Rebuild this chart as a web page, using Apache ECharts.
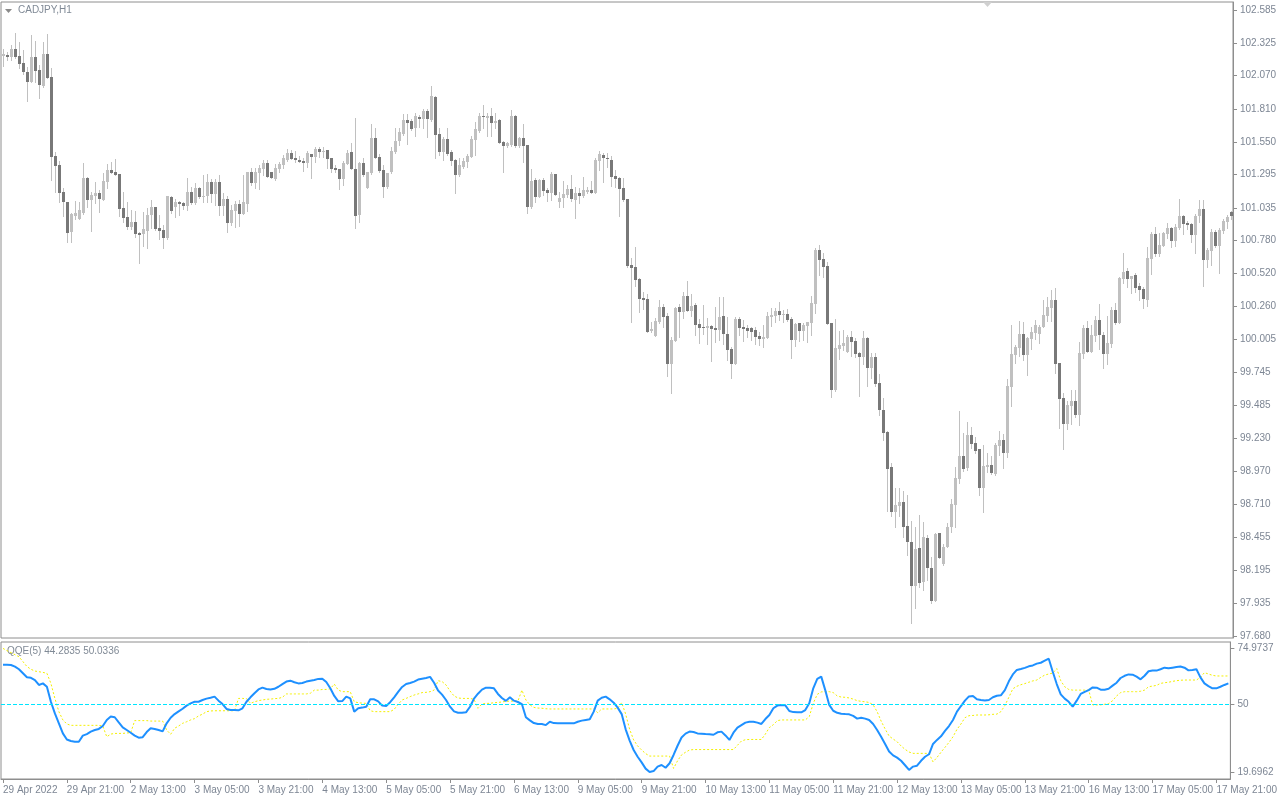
<!DOCTYPE html>
<html><head><meta charset="utf-8">
<script src="https://cdn.jsdelivr.net/npm/echarts@6/dist/echarts.min.js"></script>
<style>html,body{margin:0;padding:0;background:#fff}#c{width:1280px;height:800px}</style>
</head><body><div id="c"></div>
<script>
const opens = [
102.227,102.232,102.219,102.280,102.225,102.170,102.102,102.018,102.219,102.115,
101.992,102.240,102.063,101.441,101.371,101.162,101.083,100.848,100.971,100.948,
100.992,101.271,101.096,101.130,101.154,101.096,101.240,101.331,101.318,101.300,
101.036,100.963,100.887,100.924,100.838,100.830,100.856,100.979,101.042,100.880,
100.861,100.799,101.120,101.042,101.078,101.070,101.049,101.159,101.073,101.190,
101.122,101.128,101.235,101.143,101.235,101.052,101.104,100.919,101.013,101.062,
100.989,101.068,101.313,101.232,101.305,101.339,101.386,101.316,101.261,101.342,
101.371,101.412,101.465,101.425,101.410,101.402,101.389,101.457,101.431,101.496,
101.475,101.486,101.425,101.347,101.339,101.264,101.381,101.473,101.339,100.979,
101.386,101.193,101.308,101.585,101.433,101.331,101.198,101.316,101.473,101.559,
101.616,101.723,101.718,101.663,101.744,101.731,101.794,101.723,101.906,101.613,
101.475,101.577,101.472,101.410,101.292,101.358,101.397,101.436,101.567,101.640,
101.757,101.741,101.755,101.702,101.723,101.551,101.522,101.527,101.755,101.522,
101.580,101.527,101.044,101.253,101.123,101.253,101.175,101.154,101.300,101.083,
101.115,101.136,101.183,101.096,101.154,101.130,101.162,101.175,101.154,101.405,
101.449,101.428,101.410,101.285,101.269,101.190,101.102,100.587,100.571,100.480,
100.329,100.321,100.070,100.033,100.143,100.258,100.188,99.811,99.989,100.258,
100.219,100.344,100.227,100.274,100.125,100.101,100.094,100.109,100.096,100.078,
100.188,100.047,99.926,99.811,100.164,100.101,100.096,100.091,100.078,100.031,
100.007,100.015,100.182,100.188,100.227,100.198,100.203,100.164,99.999,100.133,
100.070,100.109,100.133,100.282,100.705,100.634,100.579,100.133,99.608,99.932,
99.955,99.908,100.023,99.992,99.898,99.869,100.018,99.783,99.869,99.663,
99.454,99.279,99.004,98.655,98.702,98.733,98.542,98.419,98.075,98.370,
98.101,98.451,98.216,97.957,98.485,98.242,98.375,98.532,98.707,98.910,
99.091,98.997,99.255,99.195,99.143,98.843,99.007,99.020,98.950,99.172,
99.216,99.117,99.629,99.882,99.939,100.044,99.882,100.007,100.052,100.046,
100.104,100.187,100.253,100.313,99.819,99.542,99.344,99.485,99.524,99.412,
99.892,100.096,99.905,100.033,100.156,100.041,99.892,99.968,100.237,100.130,
100.480,100.540,100.480,100.509,100.423,100.402,100.313,100.634,100.833,100.676,
100.739,100.833,100.877,100.775,100.880,100.974,100.919,100.911,100.825,100.968,
101.026,100.629,100.699,100.848,100.739,100.856,100.924,101.002];
const highs = [
102.280,102.259,102.311,102.402,102.337,102.272,102.141,102.389,102.342,102.154,
102.337,102.397,102.133,101.475,101.402,101.188,101.083,100.997,101.091,101.078,
101.389,101.279,101.162,101.240,101.175,101.305,101.376,101.391,101.418,101.300,
101.162,101.083,101.018,101.013,100.848,101.005,101.031,101.096,101.042,100.979,
100.901,101.128,101.128,101.102,101.088,101.083,101.266,101.201,101.227,101.201,
101.292,101.300,101.261,101.261,101.292,101.149,101.130,101.057,101.089,101.096,
101.292,101.318,101.345,101.350,101.371,101.410,101.410,101.318,101.381,101.397,
101.449,101.496,101.491,101.480,101.441,101.423,101.480,101.460,101.514,101.514,
101.514,101.486,101.425,101.371,101.339,101.405,101.488,101.540,101.741,101.397,
101.423,101.313,101.689,101.658,101.454,101.371,101.308,101.514,101.658,101.658,
101.768,101.768,101.728,101.775,101.762,101.809,101.809,101.990,101.911,101.658,
101.593,101.658,101.488,101.415,101.423,101.423,101.457,101.598,101.710,101.781,
101.841,101.775,101.815,101.781,101.728,101.561,101.553,101.802,101.762,101.593,
101.692,101.527,101.337,101.266,101.258,101.266,101.188,101.318,101.300,101.162,
101.248,101.214,101.292,101.196,101.188,101.279,101.201,101.248,101.423,101.483,
101.467,101.462,101.441,101.331,101.279,101.266,101.102,100.639,100.726,100.488,
100.378,100.360,100.143,100.169,100.313,100.282,100.208,100.026,100.261,100.282,
100.378,100.462,100.360,100.287,100.161,100.274,100.169,100.117,100.261,100.334,
100.334,100.182,99.947,100.177,100.182,100.156,100.117,100.104,100.104,100.065,
100.117,100.222,100.248,100.248,100.300,100.235,100.240,100.182,100.135,100.135,
100.135,100.143,100.344,100.723,100.741,100.679,100.613,100.133,100.164,100.073,
100.078,100.039,100.070,100.013,99.908,100.073,100.026,99.900,99.900,99.733,
99.542,99.286,99.033,98.837,98.837,98.816,98.785,98.581,98.532,98.628,
98.576,98.472,98.302,98.490,98.490,98.399,98.568,98.751,99.007,99.443,
99.268,99.360,99.320,99.242,99.143,99.177,99.112,99.091,99.190,99.287,
99.260,99.691,100.117,99.960,100.151,100.143,100.026,100.104,100.156,100.117,
100.313,100.334,100.391,100.404,99.819,99.587,99.522,99.608,99.608,99.981,
100.117,100.148,100.117,100.187,100.281,100.065,100.187,100.261,100.292,100.496,
100.684,100.561,100.501,100.522,100.443,100.417,100.731,100.848,100.887,100.835,
100.848,100.919,100.882,100.908,101.104,100.979,100.932,100.919,100.987,101.096,
101.096,100.718,100.866,100.861,100.874,100.945,100.979,101.013];
const lows = [
102.149,102.193,102.193,102.206,102.133,102.081,101.872,102.018,102.018,101.893,
101.984,102.050,101.253,101.156,101.083,100.974,100.770,100.770,100.948,100.948,
100.987,101.044,100.856,101.070,101.005,101.096,101.193,101.305,101.292,100.974,
100.927,100.869,100.869,100.804,100.600,100.736,100.718,100.874,100.861,100.791,
100.723,100.791,100.992,100.961,100.979,101.026,101.018,101.062,101.068,101.109,
101.083,101.083,101.083,101.057,100.979,100.979,100.848,100.901,100.887,100.895,
100.984,101.010,101.214,101.188,101.185,101.292,101.279,101.266,101.253,101.318,
101.350,101.402,101.415,101.397,101.392,101.324,101.358,101.271,101.392,101.436,
101.436,101.350,101.318,101.318,101.185,101.214,101.381,101.339,100.874,100.921,
101.284,101.193,101.303,101.423,101.318,101.122,101.193,101.311,101.462,101.527,
101.606,101.535,101.645,101.598,101.671,101.658,101.593,101.718,101.428,101.449,
101.410,101.449,101.371,101.149,101.284,101.345,101.352,101.431,101.449,101.632,
101.658,101.598,101.598,101.658,101.540,101.318,101.514,101.519,101.514,101.514,
101.397,100.997,101.036,101.083,101.120,101.136,101.091,101.096,101.136,101.039,
101.044,101.123,101.091,100.953,101.070,101.123,101.154,101.149,101.149,101.332,
101.240,101.358,101.206,101.201,100.971,101.089,100.574,100.143,100.423,100.219,
100.245,100.062,100.060,100.033,100.135,100.099,99.720,99.587,99.989,100.026,
100.169,100.227,100.188,100.039,99.979,100.044,99.968,99.838,99.986,99.999,
99.968,99.843,99.704,99.811,100.039,99.994,100.026,99.999,99.968,99.960,
99.947,100.015,100.109,100.143,100.156,100.140,100.151,99.861,99.953,99.992,
99.999,99.986,100.039,100.211,100.509,100.496,100.127,99.556,99.600,99.853,
99.921,99.905,99.877,99.869,99.563,99.809,99.642,99.704,99.642,99.412,
99.216,98.662,98.621,98.532,98.621,98.453,98.315,97.780,97.897,98.067,
98.041,98.119,97.942,97.957,98.289,98.237,98.375,98.498,98.532,98.876,
98.976,98.981,99.151,99.112,98.785,98.655,98.968,98.950,98.942,99.099,
98.999,99.080,99.485,99.822,99.874,99.843,99.725,99.929,100.007,99.973,
100.104,100.151,100.151,99.744,99.313,99.145,99.305,99.341,99.399,99.331,
99.861,99.905,99.905,99.994,99.926,99.777,99.814,99.947,100.125,100.130,
100.443,100.412,100.370,100.378,100.313,100.253,100.266,100.514,100.660,100.660,
100.736,100.796,100.731,100.736,100.869,100.827,100.866,100.770,100.684,100.927,
100.425,100.574,100.587,100.731,100.522,100.840,100.874,100.945];
const closes = [
102.238,102.219,102.280,102.219,102.165,102.097,102.018,102.219,102.110,101.997,
102.240,102.055,101.436,101.365,101.154,101.078,100.840,100.987,100.997,101.018,
101.271,101.096,101.136,101.154,101.104,101.248,101.331,101.311,101.292,101.026,
100.958,100.887,100.924,100.830,100.822,100.869,100.979,101.042,100.869,100.856,
100.799,101.125,101.010,101.083,101.065,101.049,101.159,101.073,101.190,101.120,
101.128,101.240,101.143,101.235,101.052,101.104,100.919,101.018,101.062,100.989,
101.081,101.313,101.232,101.313,101.350,101.386,101.279,101.271,101.347,101.381,
101.428,101.465,101.420,101.410,101.394,101.389,101.465,101.436,101.496,101.475,
101.480,101.420,101.342,101.334,101.264,101.386,101.465,101.342,100.974,101.386,
101.295,101.313,101.585,101.428,101.326,101.201,101.308,101.480,101.559,101.629,
101.723,101.702,101.653,101.755,101.731,101.794,101.731,101.911,101.606,101.475,
101.577,101.457,101.405,101.292,101.371,101.405,101.441,101.572,101.653,101.755,
101.749,101.755,101.702,101.715,101.546,101.522,101.540,101.755,101.522,101.580,
101.522,101.044,101.248,101.123,101.253,101.170,101.154,101.300,101.136,101.115,
101.143,101.183,101.104,101.154,101.128,101.175,101.175,101.154,101.410,101.457,
101.428,101.415,101.279,101.264,101.183,101.096,100.579,100.566,100.470,100.323,
100.316,100.062,100.086,100.148,100.258,100.180,99.811,99.999,100.250,100.219,
100.344,100.227,100.266,100.117,100.096,100.094,100.109,100.088,100.078,100.180,
100.047,99.921,99.811,100.164,100.096,100.086,100.070,100.062,100.026,100.007,
100.023,100.188,100.198,100.227,100.195,100.206,100.156,99.999,100.125,100.070,
100.117,100.140,100.289,100.705,100.626,100.574,100.127,99.608,99.939,99.960,
99.979,100.026,99.986,99.892,99.869,100.018,99.783,99.869,99.657,99.454,
99.273,98.991,98.655,98.707,98.733,98.537,98.419,98.075,98.362,98.093,
98.459,98.211,97.957,98.482,98.289,98.380,98.537,98.715,98.921,99.091,
98.989,99.255,99.187,99.132,98.843,99.012,99.020,98.955,99.179,99.216,
99.117,99.642,99.890,99.947,100.044,99.882,100.018,100.062,100.117,100.104,
100.193,100.261,100.313,99.814,99.537,99.344,99.490,99.524,99.412,99.898,
100.096,99.905,100.039,100.156,100.036,99.892,99.976,100.237,100.135,100.488,
100.532,100.480,100.501,100.409,100.394,100.321,100.642,100.833,100.676,100.744,
100.840,100.877,100.775,100.885,100.974,100.911,100.903,100.825,100.974,101.026,
100.629,100.705,100.848,100.739,100.861,100.932,100.966,100.971];
const qqeFast = [
67.5,67.5,67.4,66.7,65.5,63.7,61.9,61.7,60.7,58.5,
59.2,57.7,51.0,45.8,41.4,36.9,34.2,33.5,33.2,33.2,
35.9,36.6,37.7,38.4,38.9,40.2,42.9,44.4,44.1,41.8,
39.6,38.4,37.2,35.9,35.0,35.2,37.5,39.2,38.9,38.4,
37.8,41.4,43.9,45.5,46.7,47.9,49.3,50.3,51.0,51.0,
51.8,52.4,52.8,53.3,51.5,50.0,47.8,47.3,47.3,47.2,
48.1,51.0,53.0,54.8,56.5,57.3,56.7,56.5,56.8,57.7,
58.9,60.0,60.4,59.7,59.2,59.4,60.0,60.4,60.7,61.2,
61.3,59.8,57.0,53.6,51.2,51.3,53.3,52.5,46.6,48.1,
48.4,48.8,52.1,52.1,51.2,49.3,49.1,50.8,53.0,55.4,
57.6,58.9,59.4,60.0,60.9,61.3,61.6,62.1,59.5,56.0,
54.2,51.8,48.8,46.7,46.1,46.1,46.3,48.8,52.4,54.6,
56.4,57.3,57.3,57.0,54.5,52.7,51.4,53.0,51.5,50.9,
50.0,44.1,42.7,41.5,41.1,41.1,40.6,42.1,41.5,41.4,
41.4,41.4,41.4,41.4,42.1,42.6,42.9,43.2,46.6,51.5,
52.8,53.3,52.1,50.6,48.4,45.5,38.7,33.7,29.5,26.5,
24.0,21.2,19.7,20.1,22.1,22.8,21.6,23.6,27.3,31.4,
35.1,36.8,37.7,37.5,36.9,36.8,36.6,36.5,36.3,37.4,
37.7,36.0,34.0,37.2,39.5,40.6,41.7,42.1,42.1,41.7,
41.1,43.3,45.1,48.1,49.3,49.6,49.4,46.9,46.4,46.3,
46.3,47.3,50.3,57.0,61.2,62.2,56.2,49.6,47.0,46.1,
45.7,45.5,45.4,44.7,43.5,43.9,43.5,42.9,41.1,38.4,
35.4,32.2,28.8,27.1,26.1,24.7,22.7,20.6,22.1,22.5,
24.7,26.5,27.6,32.2,34.0,35.6,38.0,40.2,42.9,46.6,
49.1,51.5,53.4,53.6,52.1,51.8,51.6,51.8,53.0,53.7,
53.9,56.2,60.1,63.2,65.2,65.6,66.1,66.8,67.2,68.0,
68.4,69.3,70.2,64.4,58.9,54.3,52.4,51.0,48.8,51.5,
54.5,55.4,56.2,57.4,57.3,56.4,56.4,56.8,58.2,59.5,
61.6,62.6,63.2,63.1,62.2,61.0,62.6,64.6,64.9,64.9,
65.5,66.2,65.9,66.2,66.5,66.7,66.2,65.0,65.2,65.5,
61.9,59.2,58.0,57.0,57.0,57.7,58.5,59.2];
const qqeSlow = [
74.8,73.8,72.9,72.0,71.1,68.9,66.7,65.5,64.7,64.4,
64.1,63.7,59.2,52.5,46.6,42.9,41.1,40.5,40.5,40.5,
40.5,40.5,40.5,40.5,40.5,40.2,35.4,36.6,36.9,36.9,
36.9,37.1,37.2,42.6,42.6,42.6,42.6,42.4,42.4,42.4,
42.4,38.4,36.5,39.2,40.2,41.4,42.1,42.9,43.5,44.7,
45.5,46.6,46.9,47.0,47.0,47.0,47.0,47.0,47.0,52.5,
52.5,52.4,50.3,51.0,51.5,51.8,52.1,52.2,52.4,52.5,
53.0,54.5,54.5,54.5,54.5,54.5,54.5,54.8,56.2,56.2,
56.5,56.5,56.8,58.9,56.2,55.5,55.5,55.5,51.0,50.6,
50.4,50.3,47.0,46.6,46.6,46.6,46.6,46.6,47.6,49.9,
51.8,52.5,53.3,54.0,54.5,55.1,55.2,55.5,56.2,60.4,
60.0,58.5,55.8,53.6,52.7,52.5,52.5,52.5,52.1,48.1,
50.0,50.3,50.3,50.6,50.7,50.9,51.2,51.3,51.3,51.3,
56.2,51.8,49.6,48.5,48.2,48.1,47.9,47.8,47.8,47.8,
47.8,47.8,47.8,47.8,47.8,47.8,47.8,47.8,47.8,46.1,
47.8,47.8,47.8,47.8,48.1,50.6,45.5,38.7,34.0,31.3,
29.5,27.9,26.8,26.8,26.8,26.8,26.8,26.8,21.3,24.7,
27.3,28.5,29.5,29.7,29.7,29.7,29.7,29.7,29.7,29.7,
29.7,29.7,29.7,29.7,31.6,33.5,34.1,34.2,34.2,34.2,
34.2,36.6,39.5,40.8,42.6,42.9,42.9,42.9,42.9,42.9,
42.9,42.9,44.4,50.3,54.3,55.4,55.5,55.5,55.1,53.6,
53.1,53.0,52.7,52.2,51.5,51.2,51.0,50.7,49.6,46.6,
42.4,38.9,35.7,34.4,33.2,31.3,29.8,28.6,28.0,28.0,
28.0,28.0,28.0,24.2,26.2,28.5,30.7,32.9,35.4,38.7,
41.1,43.9,44.8,44.9,45.1,45.1,45.1,45.2,45.4,45.5,
46.6,49.3,53.0,56.8,57.9,58.6,59.1,59.7,60.3,60.7,
61.9,62.9,63.4,63.8,65.8,60.4,57.7,56.5,56.2,56.2,
56.2,56.2,56.2,49.6,49.6,49.6,49.9,50.2,51.5,53.6,
55.1,55.5,55.5,55.5,55.5,55.7,56.2,57.7,58.0,58.3,
59.2,59.5,59.7,60.1,60.4,60.6,60.7,60.7,60.7,60.7,
61.9,64.0,63.4,62.8,62.5,62.5,62.5,62.5];
const priceTicks = ['102.585','102.325','102.070','101.810','101.550','101.295','101.035','100.780','100.520','100.260','100.005','99.745','99.485','99.230','98.970','98.710','98.455','98.195','97.935','97.680'];
const qqeTicks = ['74.9737','50','19.6962'];
const timeLabels = ['29 Apr 2022','29 Apr 21:00','2 May 13:00','3 May 05:00','3 May 21:00','4 May 13:00','5 May 05:00','5 May 21:00','6 May 13:00','9 May 05:00','9 May 21:00','10 May 13:00','11 May 05:00','11 May 21:00','12 May 13:00','13 May 05:00','13 May 21:00','16 May 13:00','17 May 05:00','17 May 21:00'];
const symbolTitle = 'CADJPY,H1';
const indicatorTitle = 'QQE(5) 44.2835 50.0336';
const qqeLevel = 50;

const N = opens.length;
const cats = Array.from({length: N}, (_, i) => String(i));
const candleData = opens.map((o, i) => [i, o, closes[i], lows[i], highs[i]]);
const FONT = '"Liberation Sans", Arial, sans-serif';
const AXC = '#7d8694';
const BORDER = '#8e8e8e';

function renderCandle(params, api) {
  const i = api.value(0), o = api.value(1), c = api.value(2), l = api.value(3), h = api.value(4);
  const pO = api.coord([i, o]), pC = api.coord([i, c]), pL = api.coord([i, l]), pH = api.coord([i, h]);
  const cx = Math.round(pO[0]);
  const yT = Math.round(Math.min(pO[1], pC[1])), yB = Math.round(Math.max(pO[1], pC[1]));
  const bull = c >= o;
  return {type: 'group', children: [
    {type: 'line', shape: {x1: cx + 0.5, y1: Math.round(pH[1]), x2: cx + 0.5, y2: Math.round(pL[1]) + 1}, style: {stroke: '#c0c0c0', lineWidth: 1}},
    {type: 'rect', shape: {x: cx - 1, y: yT, width: 3, height: Math.max(1, yB - yT)}, style: {fill: bull ? '#c0c0c0' : '#787878'}}
  ]};
}

const chart = echarts.init(document.getElementById('c'), null, {renderer: 'canvas'});
chart.setOption({
  animation: false,
  backgroundColor: '#ffffff',
  grid: [
    {left: 1, top: 2, width: 1232, height: 636, show: true, borderColor: BORDER, borderWidth: 1, backgroundColor: '#fff'},
    {left: 1, top: 642, width: 1232, height: 137, show: true, borderColor: BORDER, borderWidth: 1, backgroundColor: '#fff'}
  ],
  xAxis: [
    {type: 'category', gridIndex: 0, data: cats, boundaryGap: true, axisLine: {show: false}, axisTick: {show: false}, axisLabel: {show: false}, splitLine: {show: false}},
    {type: 'category', gridIndex: 1, data: cats, boundaryGap: true, position: 'bottom',
      axisLine: {show: true, lineStyle: {color: BORDER}},
      axisTick: {show: true, interval: 15, alignWithLabel: true, length: 4, lineStyle: {color: BORDER}},
      axisLabel: {show: true, interval: 15, align: 'left', margin: 6, color: AXC, fontFamily: FONT, fontSize: 10,
        formatter: (v, idx) => timeLabels[Math.round(idx / 16)] || ''},
      splitLine: {show: false}}
  ],
  yAxis: [
    {type: 'value', gridIndex: 0, position: 'right', min: 97.66433, max: 102.64768, scale: true,
      axisLine: {show: true, lineStyle: {color: BORDER}},
      axisTick: {show: true, length: 4, lineStyle: {color: BORDER}, customValues: priceTicks.map(Number)},
      axisLabel: {show: true, margin: 7, color: AXC, fontFamily: FONT, fontSize: 10, customValues: priceTicks.map(Number),
        formatter: v => v.toFixed(3)},
      splitLine: {show: false}},
    {type: 'value', gridIndex: 1, position: 'right', min: 16.5757, max: 77.6484,
      axisLine: {show: true, lineStyle: {color: BORDER}},
      axisTick: {show: true, length: 4, lineStyle: {color: BORDER}, customValues: qqeTicks.map(Number)},
      axisLabel: {show: true, margin: 7, color: AXC, fontFamily: FONT, fontSize: 10, customValues: qqeTicks.map(Number),
        formatter: v => qqeTicks.find(t => Math.abs(Number(t) - v) < 1e-6) || String(v)},
      splitLine: {show: false}}
  ],
  series: [
    {type: 'custom', xAxisIndex: 0, yAxisIndex: 0, renderItem: renderCandle, data: candleData,
      encode: {x: 0, y: [1, 2, 3, 4]}, clip: true},
    {type: 'line', xAxisIndex: 1, yAxisIndex: 1, data: qqeSlow, symbol: 'none', smooth: false,
      lineStyle: {color: '#f5f000', width: 1, type: [2, 2]}, z: 2},
    {type: 'line', xAxisIndex: 1, yAxisIndex: 1, data: qqeFast, symbol: 'none', smooth: false,
      lineStyle: {color: '#1e90ff', width: 2}, z: 3,
      markLine: {silent: true, symbol: 'none', label: {show: false}, animation: false,
        lineStyle: {color: '#00e5ff', width: 1, type: [4, 2]}, data: [{yAxis: qqeLevel}]}}
  ],
  graphic: [
    {type: 'polygon', left: 5, top: 9, shape: {points: [[0, 0], [7, 0], [3.5, 4]]}, style: {fill: '#8a8a8a'}},
    {type: 'text', left: 18, top: 5, style: {text: symbolTitle, font: '10px ' + FONT, fill: '#808a96'}},
    {type: 'text', left: 7, top: 646, style: {text: indicatorTitle, font: '10px ' + FONT, fill: '#808a96'}},
    {type: 'polygon', left: 983, top: 2, shape: {points: [[0, 0], [9, 0], [4.5, 5]]}, style: {fill: '#d0d0d0'}}
  ]
});
</script></body></html>
